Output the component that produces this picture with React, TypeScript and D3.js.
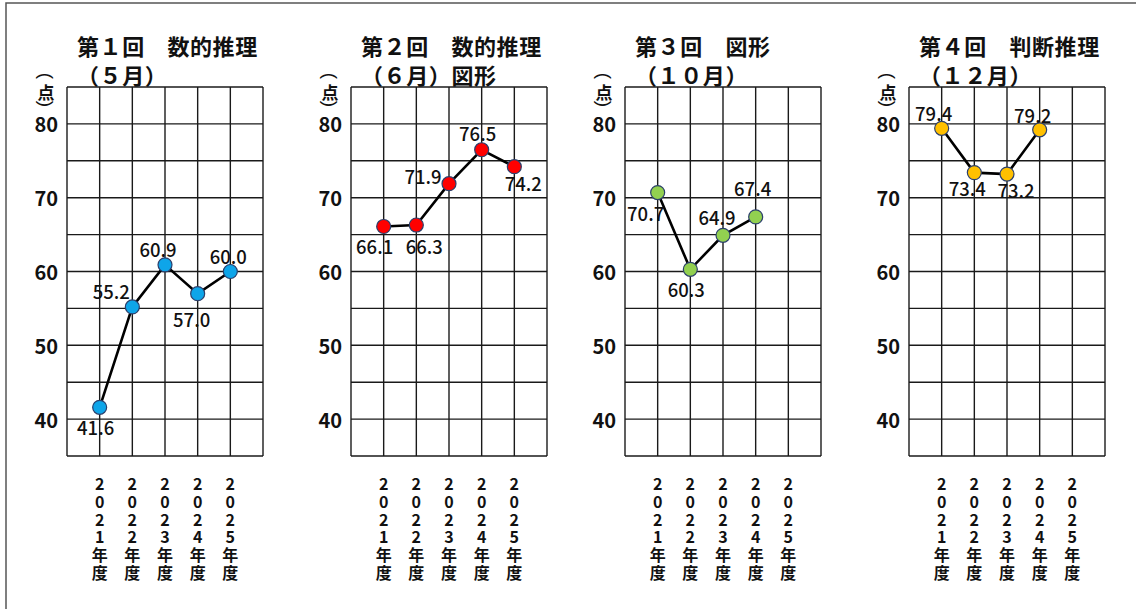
import * as d3 from "d3";

// ---- data ----
const fiscalYears = ["2021", "2022", "2023", "2024", "2025"];
const yTicks = [40, 50, 60, 70, 80];

const titleLine1 = ["第１回　数的推理", "第２回　数的推理", "第３回　図形", "第４回　判断推理"];
const titleLine2 = ["（５月）", "（６月）図形", "（１０月）", "（１２月）"];

const scoresR1 = [41.6, 55.2, 60.9, 57.0, 60.0];
const scoresR2 = [66.1, 66.3, 71.9, 76.5, 74.2];
const scoresR3 = [70.7, 60.3, 64.9, 67.4];
const scoresR4 = [79.4, 73.4, 73.2, 79.2];

const pointColors = ["#0ea5e9", "#ff0000", "#92d050", "#ffc000"];

// label offsets (dx, dy) from each point
const labelOffsets = [
  [[-4, 20], [-21, -16], [-7, -16], [-6, 25], [-2, -16]],
  [[-9, 20], [8, 21], [-26, -8], [-4, -17], [9, 16]],
  [[-12, 20], [-4, 20], [-6, -18], [-3, -29]],
  [[-8, -15], [-7, 15], [9, 16], [-7, -15]],
];

const allScores = [scoresR1, scoresR2, scoresR3, scoresR4];

// ---- layout ----
const W = 1136;
const H = 609;
const panelLefts = [67, 351, 625, 909];
const panelW = 196;
const font = "'Noto Sans CJK JP', 'Noto Sans', sans-serif";

const y = d3.scaleLinear().domain([35, 85]).range([456, 87]);
const gridY = d3.range(35, 86, 5);
const gridX = d3.range(0, 7);

function Panel({ idx }: { idx: number }) {
  const left = panelLefts[idx];
  const x = d3.scaleLinear().domain([0, 6]).range([left, left + panelW]);
  const scores = allScores[idx];
  const line = d3
    .line<number>()
    .x((_, i) => x(i + 1))
    .y((d) => y(d));
  const ux = left - 21;

  return (
    <g>
      {/* title */}
      <text x={left + 10} y={55} fontSize={22} fontWeight="bold" letterSpacing={0.6} fill="#111">
        {titleLine1[idx]}
      </text>
      <text x={left + 10} y={84} fontSize={22} fontWeight="bold" letterSpacing={0.6} fill="#111">
        {titleLine2[idx]}
      </text>

      {/* unit (点) written vertically */}
      <g fill="#111" textAnchor="middle" dominantBaseline="central">
        <text x={0} y={0} fontSize={19} fontFamily="'Liberation Sans', sans-serif"
          transform={`translate(${ux},76) rotate(90)`}>(</text>
        <text x={ux} y={91} fontSize={17} fontWeight="bold">点</text>
        <text x={0} y={0} fontSize={19} fontFamily="'Liberation Sans', sans-serif"
          transform={`translate(${ux},104) rotate(90)`}>)</text>
      </g>

      {/* grid */}
      <g stroke="#1a1a1a" strokeWidth={1.4}>
        {gridY.map((v) => (
          <line key={"h" + v} x1={x(0)} x2={x(6)} y1={y(v)} y2={y(v)} />
        ))}
        {gridX.map((v) => (
          <line key={"v" + v} x1={x(v)} x2={x(v)} y1={y(85)} y2={y(35)} />
        ))}
      </g>

      {/* y tick labels */}
      {yTicks.map((t) => (
        <text
          key={t}
          x={left - 9}
          y={y(t)}
          textAnchor="end"
          dominantBaseline="central"
          fontSize={20}
          fontWeight="bold"
          fill="#111"
        >
          {t}
        </text>
      ))}

      {/* x labels, one character per row */}
      {fiscalYears.map((yr, i) => {
        const chars = (yr + "年度").split("");
        return (
          <g key={yr}>
            {chars.map((c, j) => (
              <text
                key={j}
                x={x(i + 1)}
                y={483 + j * 17.8}
                textAnchor="middle"
                dominantBaseline="central"
                fontSize={16}
                fontWeight="bold"
                fill="#111"
              >
                {c}
              </text>
            ))}
          </g>
        );
      })}

      {/* line + points */}
      <path d={line(scores) || ""} fill="none" stroke="#000" strokeWidth={2.6} />
      {scores.map((s, i) => (
        <circle
          key={i}
          cx={x(i + 1)}
          cy={y(s)}
          r={7}
          fill={pointColors[idx]}
          stroke="#2b3f6b"
          strokeWidth={1.2}
        />
      ))}
      {scores.map((s, i) => (
        <text
          key={"l" + i}
          x={x(i + 1) + labelOffsets[idx][i][0]}
          y={y(s) + labelOffsets[idx][i][1]}
          textAnchor="middle"
          dominantBaseline="central"
          fontSize={18.5}
          fontWeight={500}
          fill="#111"
        >
          {s.toFixed(1)}
        </text>
      ))}
    </g>
  );
}

export default function App() {
  return (
    <svg
      width={W}
      height={H}
      style={{ position: "fixed", left: 0, top: 0, background: "#fff" }}
      fontFamily={font}
    >
      <rect x={0} y={0} width={W} height={H} fill="#fff" />
      <rect x={6} y={3} width={W + 20} height={H + 20} fill="none" stroke="#555" strokeWidth={1.5} />
      {[0, 1, 2, 3].map((i) => (
        <Panel key={i} idx={i} />
      ))}
    </svg>
  );
}
